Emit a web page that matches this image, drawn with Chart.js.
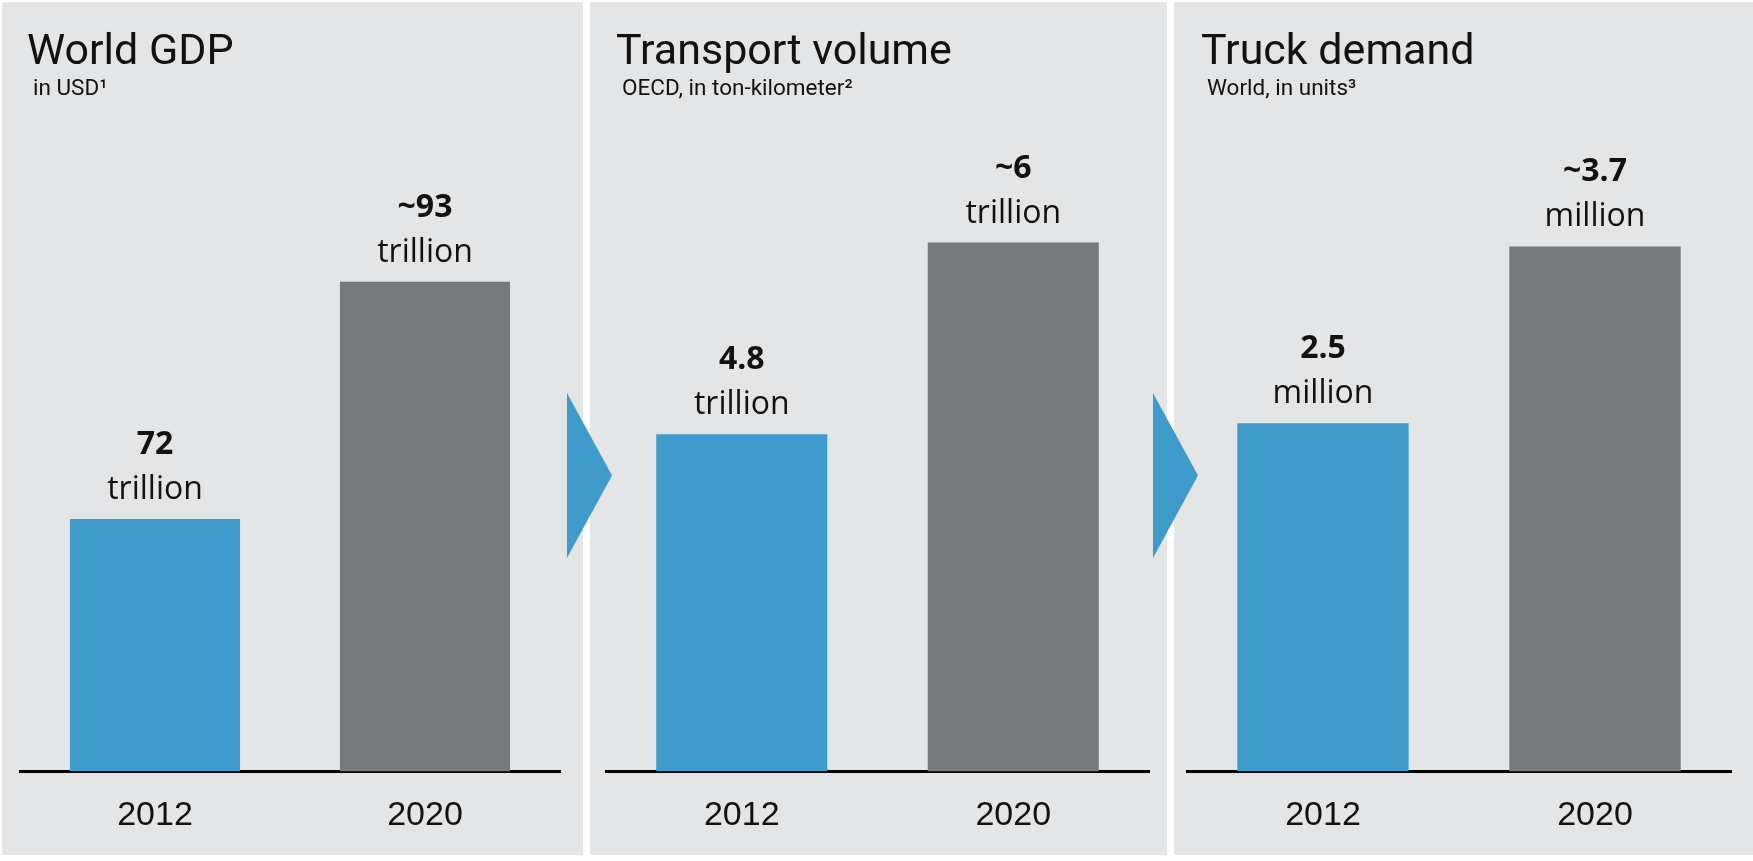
<!DOCTYPE html>
<html>
<head>
<meta charset="utf-8">
<script src="https://cdn.jsdelivr.net/npm/chart.js@4.4.0/dist/chart.umd.min.js"></script>
<style>
  body { margin: 0; background: #ffffff; }
  #wrap { position: relative; width: 1753px; height: 861px; background: #ffffff; overflow: hidden; }
  .panel { position: absolute; top: 2px; height: 853px; background: #e4e5e7; overflow: hidden; }
  .inner { position: relative; width: 100%; height: 850px; }
  .arrow { position: absolute; background: #409bca; clip-path: polygon(0 0, 100% 50%, 0 100%); }
</style>
</head>
<body>
<div id="wrap">
  <div class="panel" style="left:2px;width:581px"><div class="inner"><canvas id="gdpChart"></canvas></div></div>
  <div class="panel" style="left:590px;width:577px"><div class="inner"><canvas id="transportChart"></canvas></div></div>
  <div class="panel" style="left:1174px;width:579px"><div class="inner"><canvas id="truckChart"></canvas></div></div>
  <div class="arrow" style="left:567px;top:393px;width:45px;height:165px"></div>
  <div class="arrow" style="left:1153px;top:393px;width:45px;height:165px"></div>
</div>
<script>
// data
const years = ['2012', '2020'];

const gdpValues = [72, 93];
const gdpLabels = ['72', '~93'];

const transportValues = [4.8, 6];
const transportLabels = ['4.8', '~6'];

const truckValues = [2.5, 3.7];
const truckLabels = ['2.5', '~3.7'];

const barColors = ['#409bca', '#77787a'];

// header text + value labels over the bars
const panelText = {
    id: 'panelText',
    afterDatasetsDraw(chart, args, opts) {
        const ctx = chart.ctx;
        ctx.save();
        ctx.fillStyle = '#111111';
        ctx.textAlign = 'left';
        ctx.textBaseline = 'alphabetic';
        ctx.font = '400 43px Roboto';
        ctx.fillText(opts.title, opts.titleX, 62);
        ctx.font = '400 22.5px Roboto';
        ctx.fillText(opts.subtitle, opts.titleX + 6, 93);

        ctx.textAlign = 'center';
        const meta = chart.getDatasetMeta(0);
        meta.data.forEach(function(bar, i) {
            ctx.font = '700 32px "Open Sans"';
            ctx.fillText(opts.valueText[i], bar.x, bar.y - 65);
            ctx.font = '400 32px "Open Sans"';
            ctx.fillText(opts.unit, bar.x, bar.y - 20);
        });
        ctx.restore();
    }
};

function makePanel(id, values, valueText, unit, title, subtitle, titleX, yMin, yMax, padLeft, padRight) {
    const ctx = document.getElementById(id).getContext('2d');
    return new Chart(ctx, {
        type: 'bar',
        data: {
            labels: years,
            datasets: [{
                data: values,
                backgroundColor: barColors,
                borderWidth: 0,
                barPercentage: 0.63,
                categoryPercentage: 1
            }]
        },
        options: {
            responsive: true,
            maintainAspectRatio: false,
            animation: false,
            layout: {
                padding: { left: padLeft, right: padRight, top: 100, bottom: 0 }
            },
            scales: {
                x: {
                    z: 1,
                    grid: { display: false },
                    border: { display: true, color: '#000000', width: 3 },
                    ticks: {
                        padding: 16,
                        color: '#111111',
                        font: { family: 'Liberation Sans', size: 34 }
                    }
                },
                y: {
                    display: false,
                    min: yMin,
                    max: yMax
                }
            },
            plugins: {
                legend: { display: false },
                tooltip: { enabled: false },
                panelText: {
                    title: title,
                    subtitle: subtitle,
                    titleX: titleX,
                    valueText: valueText,
                    unit: unit
                }
            }
        },
        plugins: [panelText]
    });
}

makePanel('gdpChart', gdpValues, gdpLabels, 'trillion', 'World GDP', 'in USD\u00B9', 25, 49.7, 108.9, 18, 23);
makePanel('transportChart', transportValues, transportLabels, 'trillion', 'Transport volume', 'OECD, in ton-kilometer\u00B2', 26, 2.69, 6.88, 16, 18);
makePanel('truckChart', truckValues, truckLabels, 'million', 'Truck demand', 'World, in units\u00B3', 27, 0.14, 4.68, 13, 22);
</script>
</body>
</html>
